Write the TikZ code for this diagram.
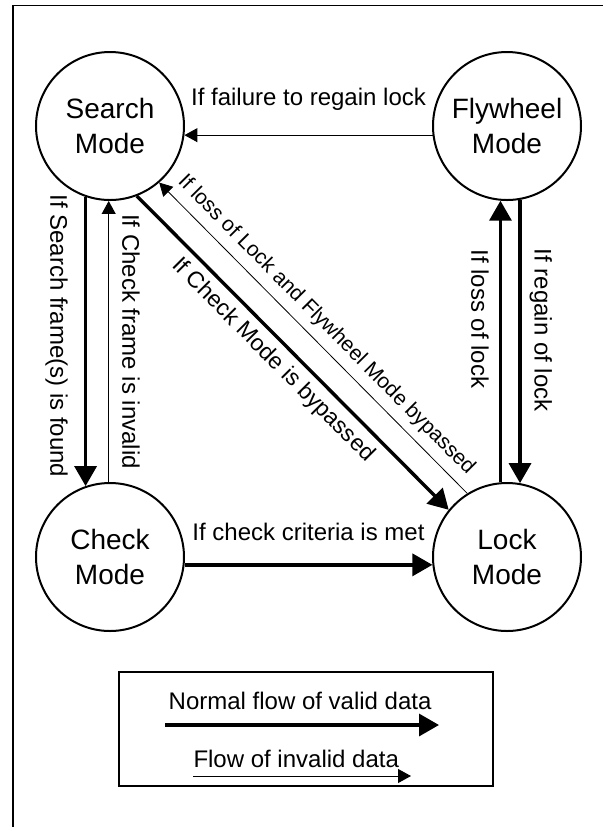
\documentclass[tikz,border=0pt]{standalone}
\usepackage{fontspec}
\setmainfont{Liberation Sans}
\usetikzlibrary{arrows.meta}

\begin{document}
\begin{tikzpicture}[x=0.5pt,y=-0.5pt,
    mode/.style={draw,circle,line width=1pt,minimum size=74pt,inner sep=0pt,
        align=center,font=\fontsize{14}{17.5}\selectfont},
    valid/.style={line width=1.7pt,-{Triangle[length=10pt,width=11pt]}},
    invalid/.style={line width=0.5pt,-{Triangle[length=6.5pt,width=7pt]}},
    cond/.style={font=\fontsize{12}{14}\selectfont}]
    \useasboundingbox (0,0) rectangle (603,827);
    \draw[line width=0.6pt] (603,5.5) -- (13,5.5) -- (13,827);
    %% the four modes
    \node[mode] (search) at (110,126) {Search\\Mode};
    \node[mode] (fly) at (507,126) {Flywheel\\Mode};
    \node[mode] (check) at (110,557) {Check\\Mode};
    \node[mode] (lock) at (507,557) {Lock\\Mode};
    %%
    \draw[invalid] (fly.187) -- node[cond,above=9pt] {If failure to regain lock} (search.-7);
    \draw[valid] (check.-6) -- node[cond,above=8pt] {If check criteria is met} (lock.186);
    %%
    \draw[valid] (search.-109) -- node[cond,pos=0.48,rotate=-90,anchor=north,inner sep=8pt]
        {If Search frame(s) is found} (check.109);
    \draw[invalid] (check.91) -- node[cond,midway,rotate=-90,anchor=south,inner sep=6.5pt]
        {If Check frame is invalid} (search.-91);
    \draw[valid] (lock.95) -- node[cond,pos=0.58,rotate=-90,anchor=north,inner sep=5pt]
        {If loss of lock} (fly.-95);
    \draw[valid] (fly.-80) -- node[cond,pos=0.46,rotate=-90,anchor=south,inner sep=4pt]
        {If regain of lock} (lock.80);
    %%
    \draw[valid] (search.-69) -- node[cond,sloped,below,pos=0.48,font=\fontsize{11.5}{14}\selectfont]
        {If Check Mode is bypassed} (lock.141);
    \draw[invalid,line width=0.4pt] (lock.122) -- node[cond,sloped,above,inner sep=4pt,pos=0.5,
        font=\fontsize{10.5}{13}\selectfont]
        {If loss of Lock and Flywheel Mode bypassed} (search.-49);
    %% legend
    \draw[line width=0.8pt] (119,672) rectangle (493,786);
    \coordinate (v1) at (165,725);
    \coordinate (v2) at (439,725);
    \coordinate (i1) at (193,776);
    \coordinate (i2) at (411,776);
    \draw[valid] (v1) node[cond,anchor=south west,inner xsep=1pt,inner ysep=7pt]
        {Normal flow of valid data} -- (v2);
    \draw[invalid] (i1) node[cond,anchor=south west,inner xsep=0pt,inner ysep=4pt]
        {Flow of invalid data} -- (i2);
\end{tikzpicture}
\end{document}
